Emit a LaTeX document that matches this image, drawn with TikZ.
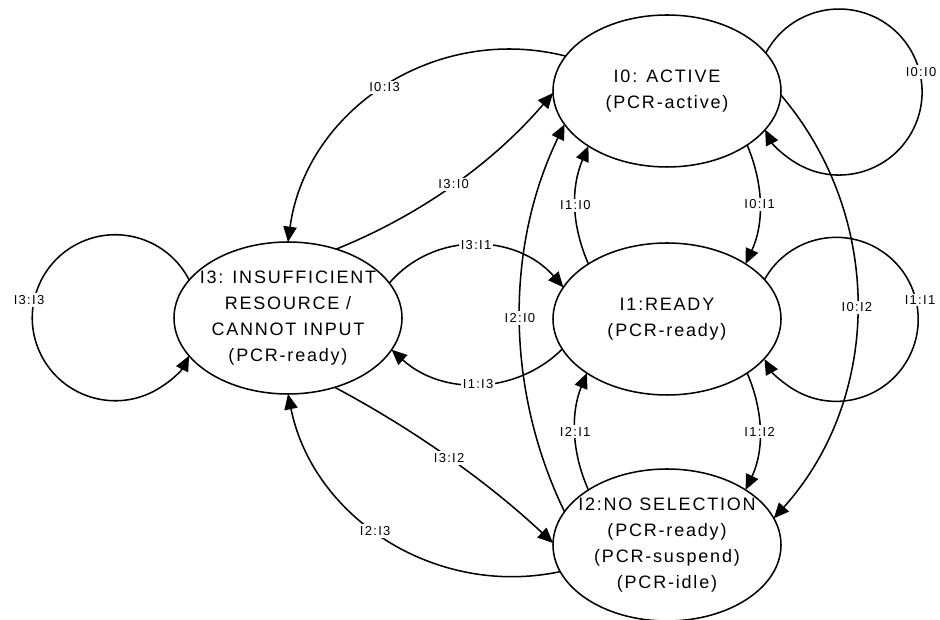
\documentclass[tikz,border=0pt]{standalone}
\usepackage{fontspec}
\setmainfont{Liberation Sans}[LetterSpace=10]
\usetikzlibrary{arrows.meta,shapes.geometric}
\begin{document}
\begin{tikzpicture}[x=0.75pt,y=0.75pt,
  state/.style={draw,ellipse,line width=1.15pt,minimum width=171pt,minimum height=114pt,inner sep=0pt,outer sep=0pt},
  statetext/.style={align=center,inner sep=0pt,font=\fontsize{13.5pt}{19.3pt}\selectfont},
  edge/.style={draw,line width=1.15pt,-{Triangle[length=11.5pt,width=10pt]}},
  lbl/.style={fill=white,inner sep=1.5pt,font=\fontsize{9.75pt}{11pt}\selectfont}]
\useasboundingbox (0,0) rectangle (940,620);

% states
\node[state] (I0) at (667,529) {};
\node[state] (I1) at (667,301) {};
\node[state] (I2) at (667,75) {};
\node[state] (I3) at (288,302) {};
\node[statetext] (I0t) at (I0.center) {I0: ACTIVE\\(PCR-active)};
\node[statetext] (I1t) at (I1.center) {I1:READY\\(PCR-ready)};
\node[statetext] (I2t) at (I2.center) {I2:NO SELECTION\\(PCR-ready)\\(PCR-suspend)\\(PCR-idle)};
\node[statetext] (I3t) at (I3.center) {I3: INSUFFICIENT\\RESOURCE /\\CANNOT INPUT\\(PCR-ready)};

% transitions between I3 and the other states
\draw[edge] (I0.161) .. controls (435,597) and (306,510) .. (I3.90) node[lbl,pos=0.5] (e03) {I0:I3};
\draw[edge] (I3.55) .. controls (420.5,405) and (493,457) .. (I0.181) node[lbl,pos=0.5] (e30) {I3:I0};
\draw[edge] (I3.19) .. controls (435,390) and (517,386) .. (I1.163) node[lbl,pos=0.5] (e31) {I3:I1};
\draw[edge] (I1.196) .. controls (515.5,224.6) and (441.5,224.6) .. (I3.343) node[lbl,pos=0.5] (e13) {I1:I3};
\draw[edge] (I3.304) .. controls (414.6,190.1) and (487.2,138.5) .. (I2.179) node[lbl,pos=0.5] (e32) {I3:I2};
\draw[edge] (I2.194) .. controls (435.5,21.8) and (313.1,102.3) .. (I3.270) node[lbl,pos=0.54] (e23) {I2:I3};

% transitions along the right column
\draw[edge] (I0.326) .. controls (764,435) and (764,396) .. (I1.35) node[lbl,pos=0.5] (e01) {I0:I1};
\draw[edge] (I1.145) .. controls (571,396) and (571,433) .. (I0.215) node[lbl,pos=0.5] (e10) {I1:I0};
\draw[edge] (I1.326) .. controls (764,208) and (764,169) .. (I2.35) node[lbl,pos=0.5] (e12) {I1:I2};
\draw[edge] (I2.145) .. controls (571,169) and (571,208) .. (I1.214) node[lbl,pos=0.5] (e21) {I2:I1};
\draw[edge] (I2.162) .. controls (505.1,230.7) and (505.1,373.3) .. (I0.198) node[lbl,pos=0.5] (e20) {I2:I0};
\draw[edge] (I0.358) .. controls (885,402.5) and (882,222) .. (I2.14.5) node[lbl,pos=0.5] (e02) {I0:I2};

% self loops
\draw[edge] (I3.159) arc[start angle=27, end angle=332.8, radius=83];
\draw[edge] (I0.21) arc[start angle=152, end angle=-153, radius=83];
\draw[edge] (I1.22.5) arc[start angle=151, end angle=-151, radius=82];
\node[lbl] (e33) at (29,320) {I3:I3};
\node[lbl] (e00) at (921,548) {I0:I0};
\node[lbl] (e11) at (920,320) {I1:I1};
\end{tikzpicture}
\end{document}
